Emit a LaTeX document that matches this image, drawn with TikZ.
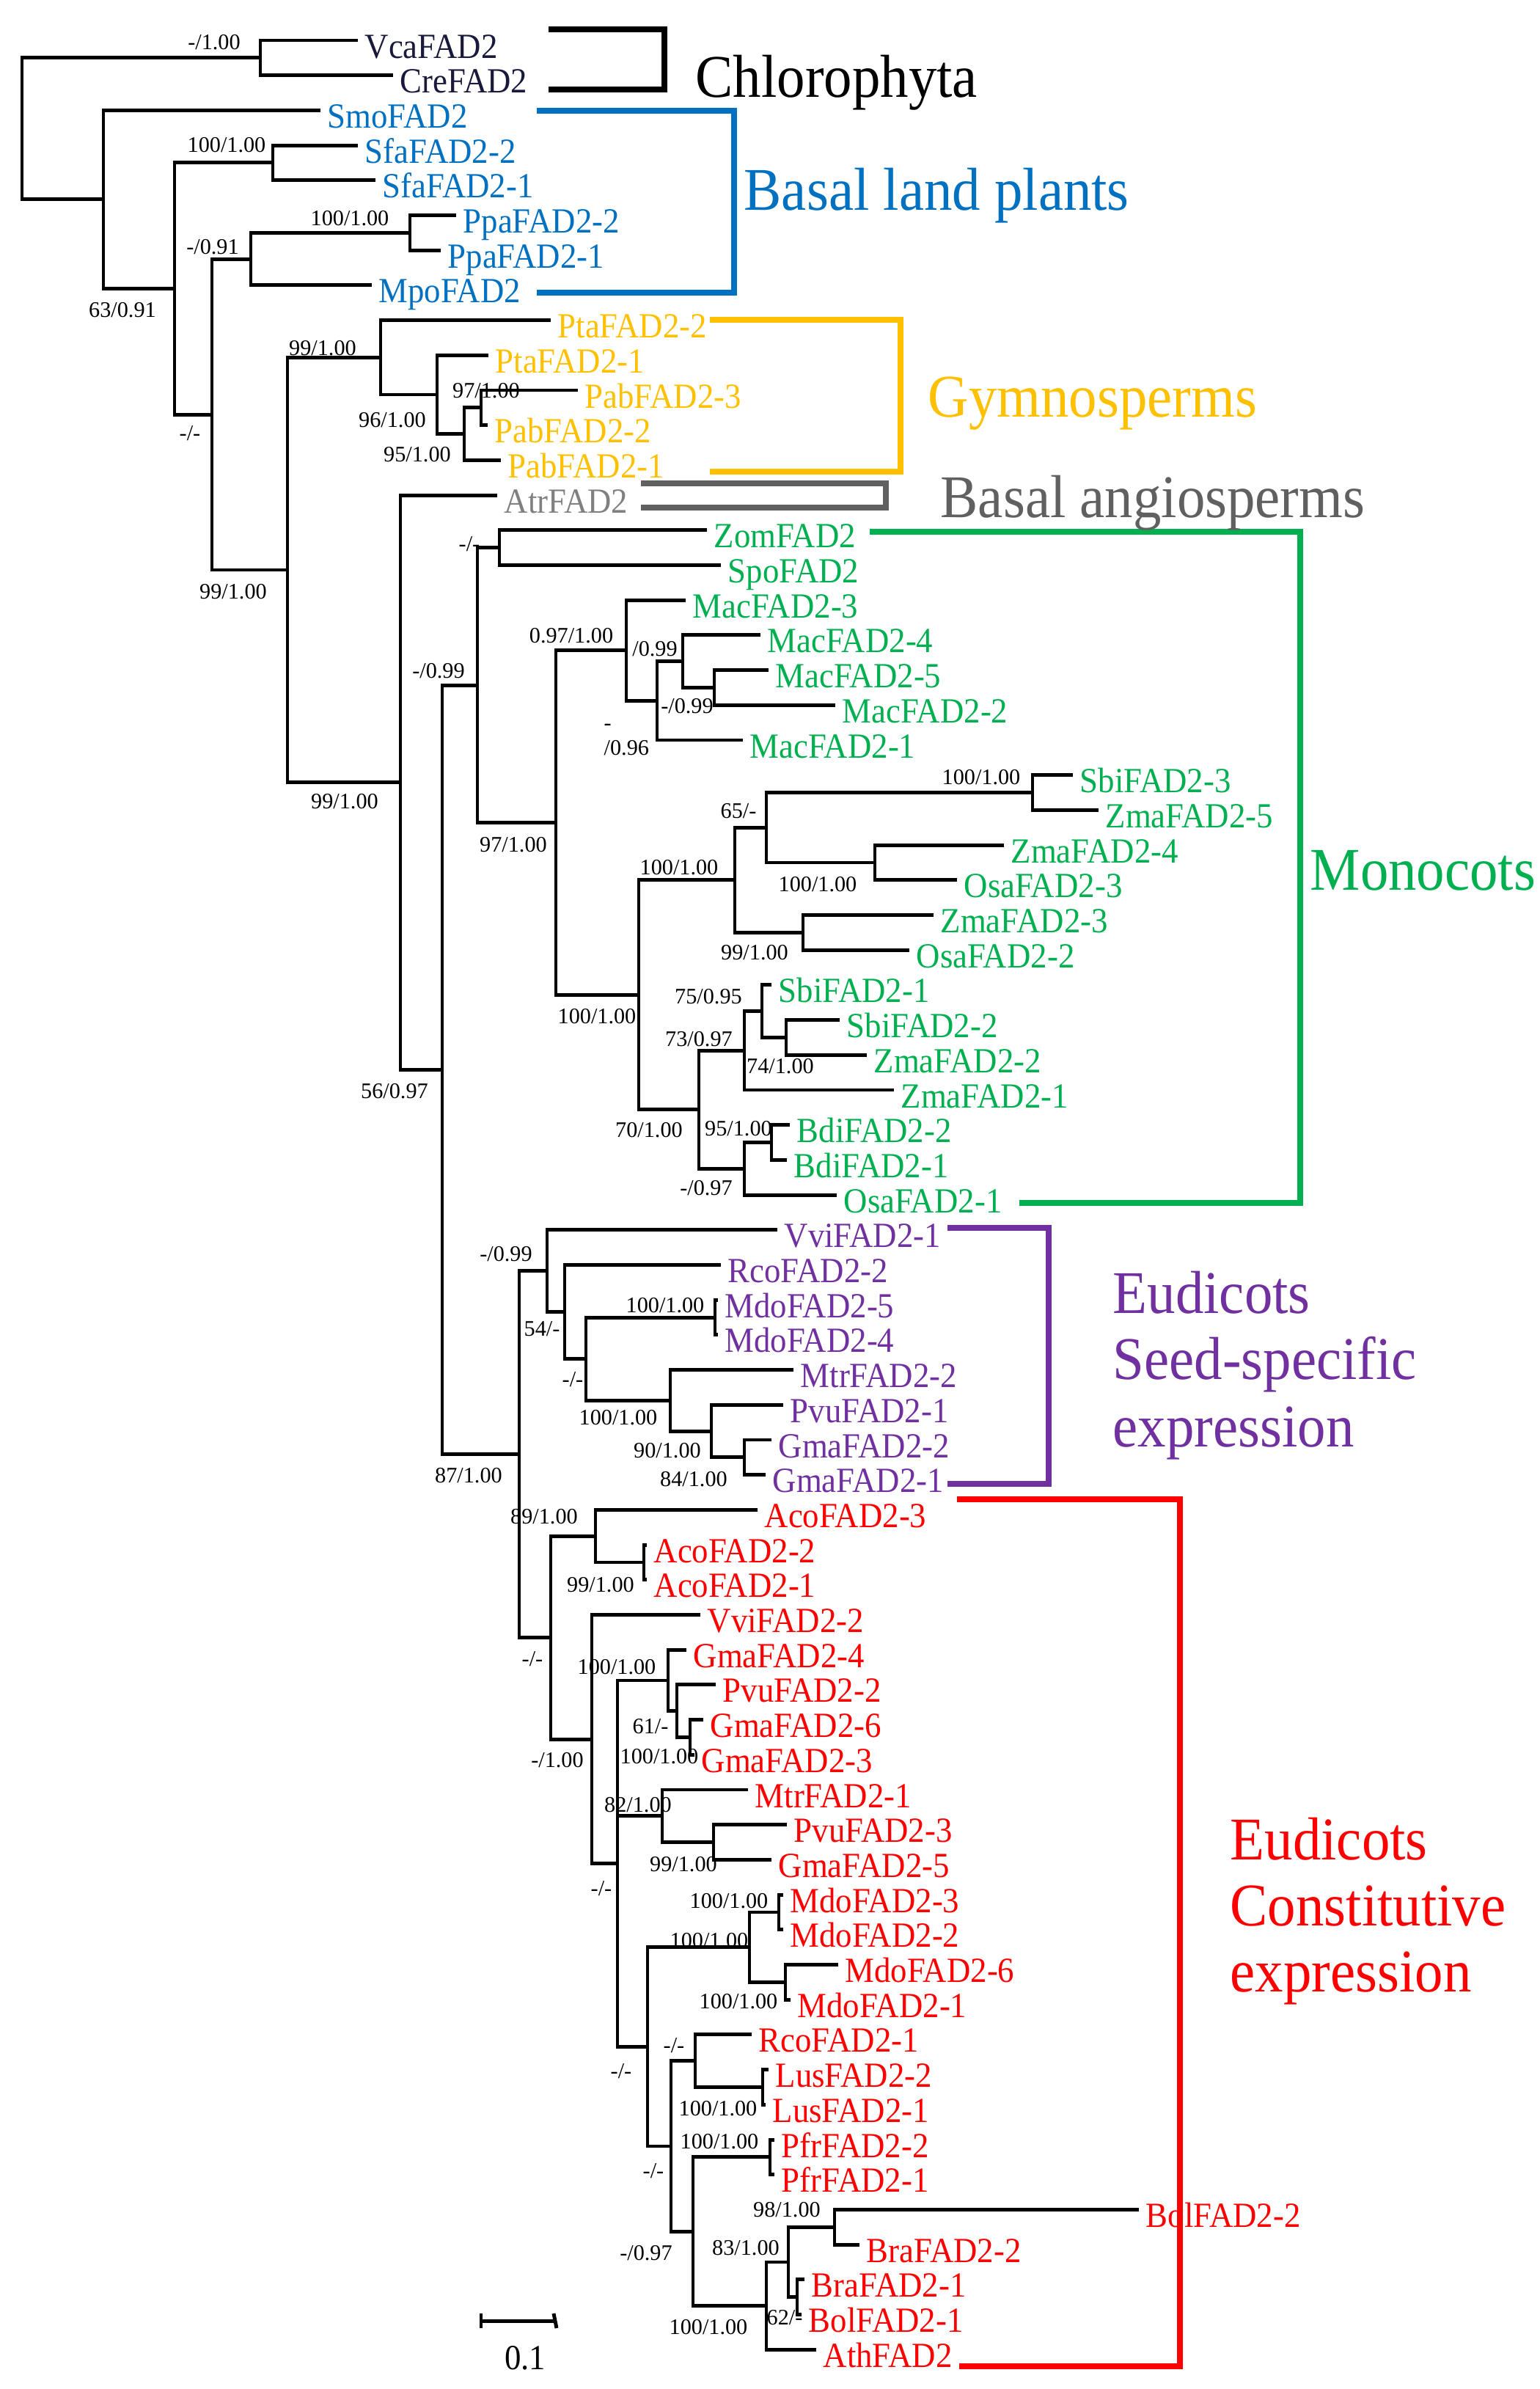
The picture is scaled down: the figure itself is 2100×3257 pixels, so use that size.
\documentclass[tikz,border=0pt]{standalone}
\usepackage{fontspec}
\setmainfont{Liberation Serif}
\newfontfamily\labfont[FakeStretch=0.93]{Liberation Serif}
\usetikzlibrary{calc}
\definecolor{cnavy}{RGB}{25,25,60}
\definecolor{cblue}{RGB}{0,112,192}
\definecolor{cgold}{RGB}{255,192,0}
\definecolor{cgrayt}{RGB}{128,128,128}
\definecolor{cgrayb}{RGB}{96,96,96}
\definecolor{cgreen}{RGB}{0,176,80}
\definecolor{cpurple}{RGB}{112,48,160}
\definecolor{cred}{RGB}{255,0,0}
\tikzset{
  br/.style={line width=1.4pt,line join=miter,line cap=butt,black},
  brk/.style={line width=2.5pt,line join=miter,line cap=butt},
  leaflab/.style={anchor=base west,inner sep=0pt,font=\labfont\fontsize{13.7}{15}\selectfont},
  bsl/.style={anchor=base,inner sep=0pt,font=\fontsize{8.6}{10}\selectfont},
  grp/.style={anchor=base west,inner sep=0pt,font=\labfont\fontsize{23.5}{26}\selectfont}
}
\newcommand\leaf[5]{%
  \coordinate (#1) at (#3,{55+(#2-1)*47.7});
  \node[leaflab,text=#4] (#1-t) at ([xshift=0.09cm,yshift=-0.24cm]#1) {#5};
}
\newcommand\inode[4]{%
  \coordinate (#1m) at ($(#3)!0.5!(#4)$);
  \coordinate (#1) at (perpendicular cs: horizontal line through={(#1m)}, vertical line through={(#2,0)});
  \draw[br] (#3) -| (#1) |- (#4);
}
\newcommand\bs[4]{\node[bsl] (#1) at (#2,#3) {#4};}
\begin{document}
\begin{tikzpicture}[x=0.01cm,y=-0.01cm]
\useasboundingbox (0,0) rectangle (2100,3257);
% leaves
\leaf{Vca}{1}{488}{cnavy}{VcaFAD2}
\leaf{Cre}{2}{536}{cnavy}{CreFAD2}
\leaf{Smo}{3}{437}{cblue}{SmoFAD2}
\leaf{Sfa2}{4}{488}{cblue}{SfaFAD2-2}
\leaf{Sfa1}{5}{512}{cblue}{SfaFAD2-1}
\leaf{Ppa2}{6}{622}{cblue}{PpaFAD2-2}
\leaf{Ppa1}{7}{601}{cblue}{PpaFAD2-1}
\leaf{Mpo}{8}{507}{cblue}{MpoFAD2}
\leaf{Pta2}{9}{751}{cgold}{PtaFAD2-2}
\leaf{Pta1}{10}{666}{cgold}{PtaFAD2-1}
\leaf{Pab3}{11}{788}{cgold}{PabFAD2-3}
\leaf{Pab2}{12}{665}{cgold}{PabFAD2-2}
\leaf{Pab1}{13}{683}{cgold}{PabFAD2-1}
\leaf{Atr}{14}{678}{cgrayt}{AtrFAD2}
\leaf{Zom}{15}{964}{cgreen}{ZomFAD2}
\leaf{Spo}{16}{983}{cgreen}{SpoFAD2}
\leaf{Mac3}{17}{935}{cgreen}{MacFAD2-3}
\leaf{Mac4}{18}{1037}{cgreen}{MacFAD2-4}
\leaf{Mac5}{19}{1048}{cgreen}{MacFAD2-5}
\leaf{Mac2}{20}{1139}{cgreen}{MacFAD2-2}
\leaf{Mac1}{21}{1013}{cgreen}{MacFAD2-1}
\leaf{Sbi3}{22}{1463}{cgreen}{SbiFAD2-3}
\leaf{Zma5}{23}{1498}{cgreen}{ZmaFAD2-5}
\leaf{Zma4}{24}{1369}{cgreen}{ZmaFAD2-4}
\leaf{Osa3}{25}{1305}{cgreen}{OsaFAD2-3}
\leaf{Zma3}{26}{1273}{cgreen}{ZmaFAD2-3}
\leaf{Osa2}{27}{1240}{cgreen}{OsaFAD2-2}
\leaf{Sbi1}{28}{1052}{cgreen}{SbiFAD2-1}
\leaf{Sbi2}{29}{1145}{cgreen}{SbiFAD2-2}
\leaf{Zma2}{30}{1182}{cgreen}{ZmaFAD2-2}
\leaf{Zma1}{31}{1219}{cgreen}{ZmaFAD2-1}
\leaf{Bdi2}{32}{1077}{cgreen}{BdiFAD2-2}
\leaf{Bdi1}{33}{1073}{cgreen}{BdiFAD2-1}
\leaf{Osa1}{34}{1141}{cgreen}{OsaFAD2-1}
\leaf{Vvi1}{35}{1060}{cpurple}{VviFAD2-1}
\leaf{Rco2}{36}{983}{cpurple}{RcoFAD2-2}
\leaf{Mdo5}{37}{979}{cpurple}{MdoFAD2-5}
\leaf{Mdo4}{38}{979}{cpurple}{MdoFAD2-4}
\leaf{Mtr2}{39}{1082}{cpurple}{MtrFAD2-2}
\leaf{Pvu1}{40}{1068}{cpurple}{PvuFAD2-1}
\leaf{Gma2}{41}{1052}{cpurple}{GmaFAD2-2}
\leaf{Gma1}{42}{1044}{cpurple}{GmaFAD2-1}
\leaf{Aco3}{43}{1033}{cred}{AcoFAD2-3}
\leaf{Aco2}{44}{882}{cred}{AcoFAD2-2}
\leaf{Aco1}{45}{882}{cred}{AcoFAD2-1}
\leaf{Vvi2}{46}{955}{cred}{VviFAD2-2}
\leaf{Gma4}{47}{936}{cred}{GmaFAD2-4}
\leaf{Pvu2}{48}{976}{cred}{PvuFAD2-2}
\leaf{Gma6}{49}{959}{cred}{GmaFAD2-6}
\leaf{Gma3}{50}{947}{cred}{GmaFAD2-3}
\leaf{Mtr1}{51}{1020}{cred}{MtrFAD2-1}
\leaf{Pvu3}{52}{1073}{cred}{PvuFAD2-3}
\leaf{Gma5}{53}{1052}{cred}{GmaFAD2-5}
\leaf{Mdo3}{54}{1068}{cred}{MdoFAD2-3}
\leaf{Mdo2}{55}{1068}{cred}{MdoFAD2-2}
\leaf{Mdo6}{56}{1143}{cred}{MdoFAD2-6}
\leaf{Mdo1}{57}{1078}{cred}{MdoFAD2-1}
\leaf{Rco1}{58}{1025}{cred}{RcoFAD2-1}
\leaf{Lus2}{59}{1048}{cred}{LusFAD2-2}
\leaf{Lus1}{60}{1044}{cred}{LusFAD2-1}
\leaf{Pfr2}{61}{1056}{cred}{PfrFAD2-2}
\leaf{Pfr1}{62}{1056}{cred}{PfrFAD2-1}
\leaf{Bol2}{63}{1553}{cred}{BolFAD2-2}
\leaf{Bra2}{64}{1172}{cred}{BraFAD2-2}
\leaf{Bra1}{65}{1097}{cred}{BraFAD2-1}
\leaf{Bol1}{66}{1093}{cred}{BolFAD2-1}
\leaf{Ath}{67}{1113}{cred}{AthFAD2}
% internal nodes
\inode{Chl}{355}{Vca}{Cre}
\inode{Sfa}{372}{Sfa2}{Sfa1}
\inode{Ppa}{559}{Ppa2}{Ppa1}
\inode{C}{342}{Ppa}{Mpo}
\inode{G}{656}{Pab3}{Pab2}
\inode{F}{633}{G}{Pab1}
\inode{E}{596}{Pta1}{F}
\inode{Gym}{519}{Pta2}{E}
\inode{K}{681}{Zom}{Spo}
\inode{P}{974}{Mac5}{Mac2}
\inode{O}{931}{Mac4}{P}
\inode{N}{896}{O}{Mac1}
\inode{M}{854}{Mac3}{N}
\inode{T}{1408}{Sbi3}{Zma5}
\inode{U}{1193}{Zma4}{Osa3}
\inode{S}{1045}{T}{U}
\inode{V}{1095}{Zma3}{Osa2}
\inode{R}{1002}{S}{V}
\inode{Z}{1072}{Sbi2}{Zma2}
\inode{Y}{1039}{Sbi1}{Z}
\inode{X}{1015}{Y}{Zma1}
\inode{AB}{1052}{Bdi2}{Bdi1}
\inode{AA}{1015}{AB}{Osa1}
\inode{W}{953}{X}{AA}
\inode{Q}{871}{R}{W}
\inode{L}{758}{M}{Q}
\inode{J}{651}{K}{L}
\inode{AG}{975}{Mdo5}{Mdo4}
\inode{AJ}{1015}{Gma2}{Gma1}
\inode{AI}{970}{Pvu1}{AJ}
\inode{AH}{914}{Mtr2}{AI}
\inode{AF}{799}{AG}{AH}
\inode{AE}{770}{Rco2}{AF}
\inode{AD}{746}{Vvi1}{AE}
\inode{AM}{878}{Aco2}{Aco1}
\inode{AL}{812}{Aco3}{AM}
\inode{AR}{941}{Gma6}{Gma3}
\inode{AQ}{923}{Pvu2}{AR}
\inode{AP}{911}{Gma4}{AQ}
\inode{AT}{973}{Pvu3}{Gma5}
\inode{AS}{903}{Mtr1}{AT}
\inode{AW}{1062}{Mdo3}{Mdo2}
\inode{AX}{1071}{Mdo6}{Mdo1}
\inode{AV}{1022}{AW}{AX}
\inode{Lus}{1040}{Lus2}{Lus1}
\inode{AZ}{948}{Rco1}{Lus}
\inode{Pfr}{1050}{Pfr2}{Pfr1}
\inode{BD}{1138}{Bol2}{Bra2}
\inode{BE}{1087}{Bra1}{Bol1}
\inode{BC}{1075}{BD}{BE}
\inode{BB}{1045}{BC}{Ath}
\inode{BA}{945}{Pfr}{BB}
\inode{AY}{915}{AZ}{BA}
\inode{AU}{883}{AV}{AY}
% three-way node
\coordinate (AOm) at ($(AP)!0.5!(AU)$);
\coordinate (AO) at (perpendicular cs: horizontal line through={(AOm)}, vertical line through={(842,0)});
\draw[br] (AP) -| (AO) |- (AU);
\draw[br] (AO |- AS) -- (AS);
\inode{AN}{807}{Vvi2}{AO}
\inode{AK}{751}{AL}{AN}
\inode{AC}{708}{AD}{AK}
\inode{I}{603}{J}{AC}
\inode{H}{546}{Atr}{I}
\inode{D}{392}{Gym}{H}
\inode{B}{289}{C}{D}
\inode{A}{238}{Sfa}{B}
\inode{LP}{141}{Smo}{A}
\inode{Root}{30}{Chl}{LP}
% support values
\bs{b1}{292}{67}{-/1.00}
\bs{b2}{309}{207}{100/1.00}
\bs{b3}{477}{307}{100/1.00}
\bs{b4}{290}{346}{-/0.91}
\bs{b5}{167}{432}{63/0.91}
\bs{b6}{440}{484}{99/1.00}
\bs{b7}{663}{542}{97/1.00}
\bs{b8}{535}{582}{96/1.00}
\bs{b9}{569}{629}{95/1.00}
\bs{b10}{259}{600}{-/-}
\bs{b11}{318}{816}{99/1.00}
\bs{b12}{640}{751}{-/-}
\bs{b13}{598}{924}{-/0.99}
\bs{b14}{779}{876}{0.97/1.00}
\bs{b15}{893}{894}{/0.99}
\bs{b16}{937}{972}{-/0.99}
\node[bsl,anchor=base west] (b17a) at (823,995) {-};
\node[bsl,anchor=base west] (b17b) at (823,1029) {/0.96};
\bs{b18}{700}{1161}{97/1.00}
\bs{b19}{1007}{1115}{65/-}
\bs{b20}{1338}{1069}{100/1.00}
\bs{b21}{926}{1192}{100/1.00}
\bs{b22}{1115}{1215}{100/1.00}
\bs{b23}{1029}{1308}{99/1.00}
\bs{b24}{966}{1368}{75/0.95}
\bs{b25}{814}{1395}{100/1.00}
\bs{b26}{953}{1426}{73/0.97}
\bs{b27}{1064}{1463}{74/1.00}
\bs{b28}{538}{1497}{56/0.97}
\bs{b29}{885}{1550}{70/1.00}
\bs{b30}{1007}{1548}{95/1.00}
\bs{b31}{963}{1629}{-/0.97}
\bs{b32}{690}{1719}{-/0.99}
\bs{b33}{739}{1821}{54/-}
\bs{b34}{907}{1789}{100/1.00}
\bs{b35}{781}{1890}{-/-}
\bs{b36}{843}{1942}{100/1.00}
\bs{b37}{910}{1987}{90/1.00}
\bs{b38}{946}{2026}{84/1.00}
\bs{b39}{639}{2021}{87/1.00}
\bs{b40}{742}{2077}{89/1.00}
\bs{b41}{819}{2170}{99/1.00}
\bs{b42}{726}{2271}{-/-}
\bs{b43}{841}{2282}{100/1.00}
\bs{b44}{887}{2363}{61/-}
\bs{b45}{899}{2404}{100/1.00}
\bs{b46}{760}{2409}{-/1.00}
\bs{b47}{870}{2470}{82/1.00}
\bs{b48}{932}{2551}{99/1.00}
\bs{b49}{820}{2584}{-/-}
\bs{b50}{994}{2601}{100/1.00}
\bs{b51}{967}{2655}{100/1.00}
\bs{b52}{1007}{2738}{100/1.00}
\bs{b53}{919}{2798}{-/-}
\bs{b54}{847}{2833}{-/-}
\bs{b55}{979}{2884}{100/1.00}
\bs{b56}{981}{2929}{100/1.00}
\bs{b57}{891}{2969}{-/-}
\bs{b58}{1073}{3022}{98/1.00}
\bs{b59}{881}{3081}{-/0.97}
\bs{b60}{1017}{3074}{83/1.00}
\bs{b61}{1070}{3169}{62/-}
\bs{b62}{966}{3182}{100/1.00}
\bs{b63}{470}{1102}{99/1.00}
% clade brackets
\draw[brk,black] (748,40) -- (906,40) -- (906,122) -- (748,122);
\draw[brk,cblue] (732,151) -- (1001,151) -- (1001,399) -- (732,399);
\draw[brk,cgold] (968,436) -- (1228,436) -- (1228,643) -- (968,643);
\draw[brk,cgrayb] (874,659) -- (1208,659) -- (1208,692) -- (874,692);
\draw[brk,cgreen] (1186,725) -- (1773,725) -- (1773,1640) -- (1390,1640);
\draw[brk,cpurple] (1292,1674) -- (1430,1674) -- (1430,2023) -- (1292,2023);
\draw[brk,cred] (1305,2044) -- (1609,2044) -- (1609,3226) -- (1308,3226);
% clade names
\node[grp,text=black] (gChl) at (948,132) {Chlorophyta};
\node[grp,text=cblue] (gBlp) at (1014,286) {Basal land plants};
\node[grp,text=cgold] (gGym) at (1265,568) {Gymnosperms};
\node[grp,text=cgrayb] (gBan) at (1282,705) {Basal angiosperms};
\node[grp,text=cgreen] (gMon) at (1786,1213) {Monocots};
\node[grp,text=cpurple] (gS1) at (1517,1790) {Eudicots};
\node[grp,text=cpurple] (gS2) at (1517,1880) {Seed-specific};
\node[grp,text=cpurple] (gS3) at (1517,1972) {expression};
\node[grp,text=cred] (gC1) at (1677,2535) {Eudicots};
\node[grp,text=cred] (gC2) at (1677,2625) {Constitutive};
\node[grp,text=cred] (gC3) at (1677,2715) {expression};
% scale bar
\coordinate (sbL) at (656,3164);
\coordinate (sbR) at (757,3164);
\draw[br] (sbL) -- (sbR);
\draw[br] ([yshift=0.1cm]sbL) -- ([yshift=-0.1cm]sbL);
\draw[br] ([xshift=-0.02cm,yshift=0.1cm]sbR) -- ([xshift=0.02cm,yshift=-0.1cm]sbR);
\node[leaflab,anchor=base] (sbt) at (716,3230) {0.1};
\end{tikzpicture}
\end{document}
